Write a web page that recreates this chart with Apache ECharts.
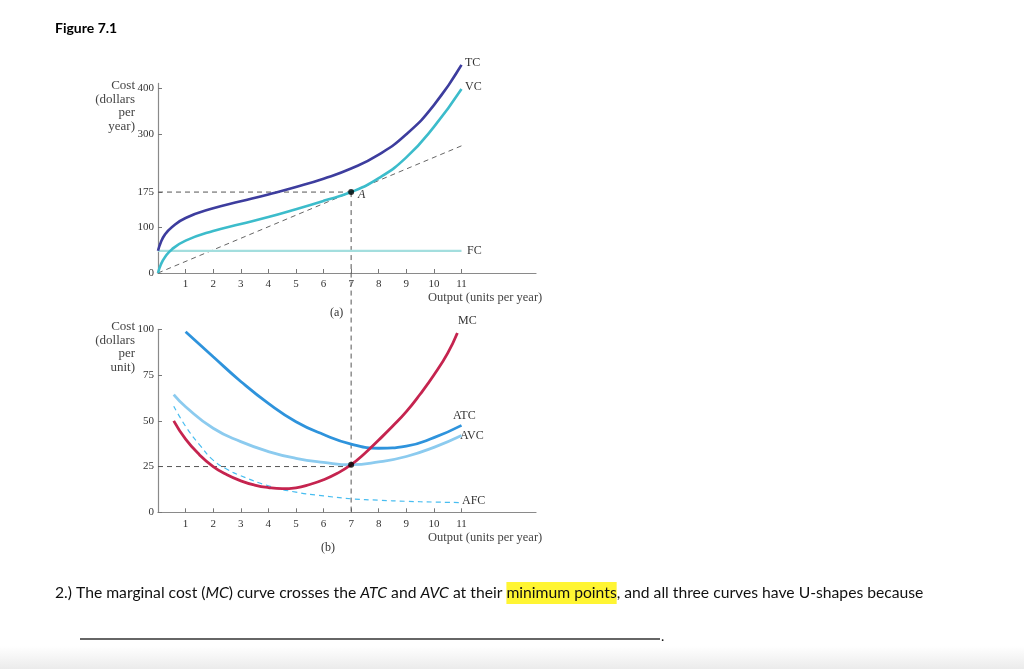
<!DOCTYPE html>
<html>
<head>
<meta charset="utf-8">
<title>Figure 7.1</title>
<script src="https://cdn.jsdelivr.net/npm/echarts@6/dist/echarts.min.js"></script>
<style>
    html, body { margin: 0; padding: 0; background: #fff; }
    #chart { width: 1024px; height: 669px; }
</style>
</head>
<body>
<div id="chart"></div>
<script>
// (a) total cost panel, dollars per year
const outputTop = [0, 0.1, 0.25, 0.5, 1, 2, 3, 4, 5, 6, 7, 8, 9, 10, 11];
const tcValues = [48, 66, 83, 99, 119, 140, 155, 170, 186, 204, 226, 256, 300, 363, 450];
const vcValues = [0, 18, 34, 51, 70, 91, 106, 121, 138, 156, 175, 205, 250, 316, 398];
const fcOutput = [0, 11];
const fcValues = [48, 48];
const rayOutput = [0, 11];
const rayValues = [0, 275];
const pointA = [7, 175];
const topTicks = [0, 100, 175, 300, 400];

// (b) per unit panel
const atcOutput = [1, 2, 3, 4, 5, 6, 7, 8, 9, 10, 11];
const atcValues = [98.7, 85, 71.5, 59.5, 49.5, 42.5, 37.3, 35, 36.2, 40.8, 47.5];
const avcOutput = [0.57, 1, 2, 3, 4, 5, 6, 7, 8, 9, 10, 11];
const avcValues = [64.3, 57.7, 45.9, 38.6, 33.2, 29.5, 27.3, 26, 27.5, 30.5, 35.5, 42];
const mcOutput = [0.57, 1, 1.5, 2, 2.5, 3, 3.5, 4, 4.5, 5, 5.5, 6, 6.5, 7, 7.5, 8, 8.5, 9, 9.5, 10, 10.5, 10.85];
const mcValues = [50, 40, 31.5, 25, 20.5, 17.2, 14.9, 13.5, 12.9, 13.4, 15.2, 17.8, 21.3, 26, 32.3, 39.5, 47, 55, 64.5, 75, 87, 98];
const afcOutput = [0.57, 1, 1.5, 2, 2.5, 3, 4, 5, 6, 7, 8, 9, 10, 11];
const afcValues = [58, 47, 37, 28.5, 23.5, 20, 14.5, 11, 9, 7.4, 6.6, 6, 5.6, 5.3];
const pointB = [7, 26];
const bottomTicks = [0, 25, 50, 75, 100];

const xTicks = [1, 2, 3, 4, 5, 6, 7, 8, 9, 10, 11];

const zip = (xs, ys) => xs.map((x, i) => [x, ys[i]]);

const SERIF = 'Liberation Serif';
const DASH = [5, 4];

const makeXAxis = (gridIndex) => ({
    type: 'value',
    gridIndex,
    min: 0,
    max: 13.7,
    axisLine: { lineStyle: { color: '#8a8a8a', width: 1.2 } },
    axisTick: { inside: true, length: 4, customValues: xTicks, lineStyle: { color: '#777' } },
    axisLabel: { customValues: xTicks, margin: 6, fontFamily: SERIF, fontSize: 11, color: '#333' },
    splitLine: { show: false }
});

const makeYAxis = (gridIndex, max, ticks) => ({
    type: 'value',
    gridIndex,
    min: 0,
    max,
    axisLine: { show: true, lineStyle: { color: '#8a8a8a', width: 1.2 } },
    axisTick: { show: true, inside: true, length: 4, customValues: ticks, lineStyle: { color: '#777' } },
    axisLabel: { customValues: ticks, margin: 4, fontFamily: SERIF, fontSize: 11, color: '#333' },
    splitLine: { show: false }
});

const curve = (name, axis, data, color, width) => ({
    name,
    type: 'line',
    xAxisIndex: axis,
    yAxisIndex: axis,
    data,
    smooth: 0.5,
    symbol: 'none',
    clip: false,
    lineStyle: { color, width },
    z: 3
});

const dashed = (axis, data, color, width, smooth) => ({
    type: 'line',
    xAxisIndex: axis,
    yAxisIndex: axis,
    data,
    symbol: 'none',
    smooth: smooth || false,
    clip: false,
    silent: true,
    lineStyle: { color: color || '#555', width: width || 1, type: DASH },
    z: 2
});

const dot = (axis, p) => ({
    type: 'scatter',
    xAxisIndex: axis,
    yAxisIndex: axis,
    data: [p],
    symbol: 'circle',
    symbolSize: 6,
    itemStyle: { color: '#000' },
    z: 5
});

const label = (text, x, y, extra) => ({
    type: 'text',
    x,
    y,
    style: Object.assign({
        text,
        fontFamily: SERIF,
        fontSize: 12,
        fill: '#333',
        verticalAlign: 'middle'
    }, extra || {})
});

const chart = echarts.init(document.getElementById('chart'));

chart.setOption({
    backgroundColor: '#fff',
    animation: false,
    grid: [
        { left: 158, top: 83.4, width: 378, height: 189.6, outerBoundsMode: 'none' },
        { left: 158, top: 329.3, width: 378, height: 183, outerBoundsMode: 'none' }
    ],
    xAxis: [makeXAxis(0), makeXAxis(1)],
    yAxis: [makeYAxis(0, 410, topTicks), makeYAxis(1, 100, bottomTicks)],
    series: [
        // panel (a)
        dashed(0, zip(rayOutput, rayValues), '#666'),
        dashed(0, [[0, pointA[1]], pointA]),
        dashed(0, [pointA, [pointA[0], 0]]),
        curve('FC', 0, zip(fcOutput, fcValues), '#a3dede', 2.2),
        curve('VC', 0, zip(outputTop, vcValues), '#3cbccb', 2.6),
        curve('TC', 0, zip(outputTop, tcValues), '#3d3d9e', 2.6),
        dot(0, pointA),
        // panel (b)
        dashed(1, [[pointB[0], 131], [pointB[0], 0]]),
        dashed(1, [[0, 25], [pointB[0], 25]]),
        dashed(1, zip(afcOutput, afcValues), '#48bdf0', 1.2, 0.5),
        curve('AVC', 1, zip(avcOutput, avcValues), '#8ccbef', 2.8),
        curve('ATC', 1, zip(atcOutput, atcValues), '#2e93dc', 2.8),
        curve('MC', 1, zip(mcOutput, mcValues), '#c5244f', 2.8),
        dot(1, pointB)
    ],
    graphic: [
        {
            type: 'rect',
            shape: { x: 0, y: 646, width: 1024, height: 23 },
            style: {
                fill: new echarts.graphic.LinearGradient(0, 0, 0, 1, [
                    { offset: 0, color: '#ffffff' },
                    { offset: 1, color: '#ebebeb' }
                ])
            },
            z: -1
        },
        label('Figure 7.1', 55, 28, { fontFamily: 'Lato', fontWeight: 'bold', fontSize: 14, fill: '#000' }),
        label('Cost\n(dollars\nper\nyear)', 135, 106, { align: 'right', fontSize: 13, lineHeight: 13.5, fill: '#444' }),
        label('Cost\n(dollars\nper\nunit)', 135, 347, { align: 'right', fontSize: 13, lineHeight: 13.5, fill: '#444' }),
        label('Output (units per year)', 428, 298, { fontSize: 12.5, fill: '#444' }),
        label('Output (units per year)', 428, 538, { fontSize: 12.5, fill: '#444' }),
        label('(a)', 330, 313),
        label('(b)', 321, 548),
        label('TC', 465, 63),
        label('VC', 465, 87),
        label('FC', 467, 251),
        label('A', 358, 195, { fontStyle: 'italic', fontSize: 12 }),
        label('MC', 458, 321),
        label('ATC', 453, 416),
        label('AVC', 460, 436),
        label('AFC', 462, 501),
        {
            type: 'text',
            x: 55,
            y: 593,
            style: {
                text: '{t|2.) The marginal cost (}{i|MC}{t|) curve crosses the }{i|ATC}{t| and }{i|AVC}{t| at their }{h|minimum points}{t|, and all three curves have U-shapes because}',
                verticalAlign: 'middle',
                rich: {
                    t: { fontFamily: 'Lato', fontSize: 15.7, fill: '#111' },
                    i: { fontFamily: 'Lato', fontSize: 15.7, fontStyle: 'italic', fill: '#111' },
                    h: { fontFamily: 'Lato', fontSize: 15.7, fill: '#111', backgroundColor: '#fff533', padding: [3, 0, 3, 0] }
                }
            }
        },
        {
            type: 'line',
            shape: { x1: 80, y1: 639, x2: 660, y2: 639 },
            style: { stroke: '#333', lineWidth: 1.4 }
        },
        label('.', 661, 636, { fontFamily: 'Lato', fontSize: 14, fill: '#111' })
    ]
});
</script>
</body>
</html>
